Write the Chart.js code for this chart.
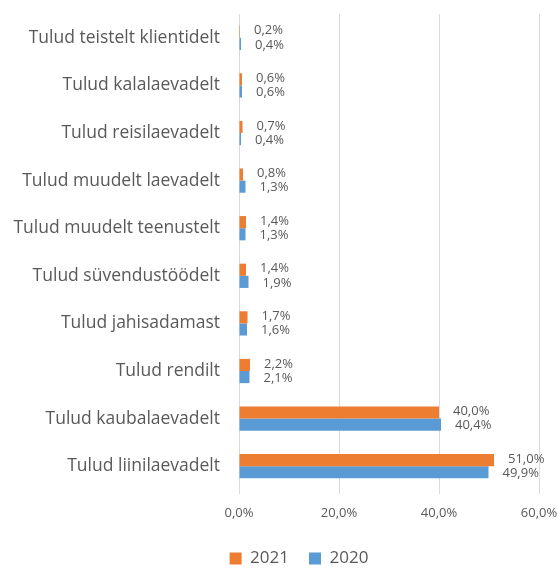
<!DOCTYPE html>
<html>
<head>
<meta charset="utf-8">
<script src="https://cdn.jsdelivr.net/npm/chart.js@4"></script>
<style>
  html, body { margin: 0; padding: 0; background: #fff; }
  #wrap { width: 558px; height: 568px; }
</style>
</head>
<body>
<div id="wrap"><canvas id="myChart" width="558" height="568"></canvas></div>
<script>
const categories = [
  "Tulud teistelt klientidelt",
  "Tulud kalalaevadelt",
  "Tulud reisilaevadelt",
  "Tulud muudelt laevadelt",
  "Tulud muudelt teenustelt",
  "Tulud süvendustöödelt",
  "Tulud jahisadamast",
  "Tulud rendilt",
  "Tulud kaubalaevadelt",
  "Tulud liinilaevadelt"
];
const values2021 = [0.2, 0.6, 0.7, 0.8, 1.4, 1.4, 1.7, 2.2, 40.0, 51.0];
const values2020 = [0.4, 0.6, 0.4, 1.3, 1.3, 1.9, 1.6, 2.1, 40.4, 49.9];
const xTicks = [0, 20, 40, 60];

const fmt = (v) => v.toFixed(1).replace(".", ",") + "%";
const FONT = "'Open Sans', sans-serif";

document.addEventListener("DOMContentLoaded", () => {
  const ctx = document.getElementById("myChart").getContext("2d");

  const data = {
    labels: categories,
    datasets: [
      {
        label: "2021",
        data: values2021,
        backgroundColor: "#ED7D31",
        borderWidth: 0,
        categoryPercentage: 0.51,
        barPercentage: 1.0,
      },
      {
        label: "2020",
        data: values2020,
        backgroundColor: "#5B9BD5",
        borderWidth: 0,
        categoryPercentage: 0.51,
        barPercentage: 1.0,
      },
    ],
  };

  const config = {
    type: "bar",
    data: data,
    options: {
      indexAxis: "y",
      responsive: false,
      animation: false,
      layout: { padding: 0 },
      scales: {
        x: {
          min: 0,
          max: 60,
          afterBuildTicks: (axis) => {
            axis.ticks = xTicks.map((v) => ({ value: v }));
          },
          afterFit: (axis) => {
            axis.height = 31;
            axis.paddingLeft = 0;
            axis.paddingRight = 19;
          },
          ticks: {
            callback: (v) => fmt(v),
            color: "#595959",
            font: { family: FONT, size: 13 },
            padding: 11,
          },
          grid: { color: "#d9d9d9", lineWidth: 1, tickLength: 4, drawTicks: true, tickColor: "#d9d9d9" },
          border: { display: false },
        },
        y: {
          afterFit: (axis) => {
            axis.width = 239;
            axis.paddingTop = 14;
            axis.paddingBottom = 0;
          },
          ticks: {
            color: "#595959",
            font: { family: FONT, size: 17.5 },
            padding: 11,
          },
          grid: { display: false },
          border: { display: false },
        },
      },
      plugins: {
        legend: {
          position: "bottom",
          labels: {
            boxWidth: 12,
            boxHeight: 12,
            color: "#595959",
            font: { family: FONT, size: 17 },
            padding: 20,
          },
        },
        tooltip: { enabled: true },
      },
    },
    plugins: [
      {
        id: "legendShift",
        afterLayout: (chart) => {
          // move the legend row lower and a bit to the right
          chart.legend.top += 9;
          chart.legend.bottom += 9;
          chart.legend.left += 20;
          chart.legend.right += 20;
        },
      },
      {
        id: "valueLabels",
        afterDatasetsDraw: (chart) => {
          const { ctx } = chart;
          ctx.save();
          ctx.font = "13px " + FONT;
          ctx.fillStyle = "#595959";
          ctx.textAlign = "left";
          ctx.textBaseline = "middle";
          chart.data.datasets.forEach((ds, di) => {
            const meta = chart.getDatasetMeta(di);
            meta.data.forEach((bar, i) => {
              ctx.fillText(fmt(ds.data[i]), bar.x + 14, bar.y + (di === 0 ? -1 : 1));
            });
          });
          ctx.restore();
        },
      },
    ],
  };

  new Chart(ctx, config);
});
</script>
</body>
</html>
